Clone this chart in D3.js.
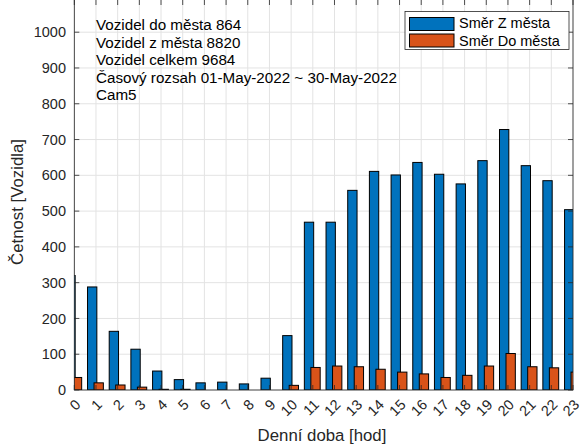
<!DOCTYPE html>
<html>
<head>
<meta charset="utf-8">
<script src="https://cdn.jsdelivr.net/npm/d3@7"></script>
<style>
  body { margin: 0; background: #fff; }
  svg { display: block; font-family: "Liberation Sans", Arial, Helvetica, sans-serif; }
</style>
</head>
<body>
<div id="chart"></div>
<script>
// hourly counts, Cam5, 01-May-2022 ~ 30-May-2022
const hours = ["0","1","2","3","4","5","6","7","8","9","10","11","12","13","14","15","16","17","18","19","20","21","22","23"];
const zMesta = [320, 288, 164, 114, 53, 29, 20, 22, 17, 33, 152, 469, 469, 558, 611, 601, 636, 603, 576, 641, 728, 627, 585, 504];
const doMesta = [35, 20, 14, 8, 2, 2, 0, 0, 0, 0, 13, 63, 67, 65, 58, 50, 45, 35, 41, 67, 102, 65, 62, 50];
const seriesNames = ["Směr Z města", "Směr Do města"];
const yTicks = [0, 100, 200, 300, 400, 500, 600, 700, 800, 900, 1000];
const infoLines = [
  "Vozidel do města 864",
  "Vozidel z města 8820",
  "Vozidel celkem 9684",
  "Časový rozsah 01-May-2022 ~ 30-May-2022",
  "Cam5"
];

const width = 582, height = 448;
const pLeft = 74.3, pRight = 573, pTop = 0, pBottom = 390;
const colors = ["#0072BD", "#D95319"];
const axisCol = "#262626";

const svg = d3.select("#chart").append("svg")
  .attr("width", width)
  .attr("height", height);

const x = d3.scaleLinear().domain([0, 23]).range([pLeft, pRight]);
const y = d3.scaleLinear().domain([0, 1090]).range([pBottom, pTop]);

svg.append("clipPath").attr("id", "plot")
  .append("rect")
  .attr("x", pLeft).attr("y", pTop)
  .attr("width", pRight - pLeft).attr("height", pBottom - pTop);

// grid
const grid = svg.append("g").attr("stroke", "#e3e3e3").attr("stroke-width", 1);
grid.selectAll(".gx").data(hours).enter().append("line")
  .attr("x1", (d, i) => x(i)).attr("x2", (d, i) => x(i))
  .attr("y1", pTop).attr("y2", pBottom);
grid.selectAll(".gy").data(yTicks).enter().append("line")
  .attr("x1", pLeft).attr("x2", pRight)
  .attr("y1", d => y(d)).attr("y2", d => y(d));

// bars
const barW = 0.43;
const offsets = [-0.175, 0.125];
const bars = svg.append("g").attr("clip-path", "url(#plot)");
[zMesta, doMesta].forEach((vals, s) => {
  bars.selectAll(".b" + s).data(vals).enter().append("rect")
    .attr("x", (d, i) => x(i + offsets[s] - barW / 2))
    .attr("width", x(barW) - x(0))
    .attr("y", d => y(d))
    .attr("height", d => y(0) - y(d))
    .attr("fill", colors[s])
    .attr("stroke", "#000")
    .attr("stroke-width", 1);
});

// box + ticks
const ax = svg.append("g").attr("stroke", axisCol).attr("stroke-width", 0.8).attr("fill", "none");
ax.append("rect").attr("x", pLeft).attr("y", pTop - 5)
  .attr("width", pRight - pLeft).attr("height", pBottom - pTop + 5);
const tl = 5;
hours.forEach((h, i) => {
  ax.append("line").attr("x1", x(i)).attr("x2", x(i)).attr("y1", pBottom).attr("y2", pBottom - tl);
  ax.append("line").attr("x1", x(i)).attr("x2", x(i)).attr("y1", pTop).attr("y2", pTop + tl);
});
yTicks.forEach(v => {
  ax.append("line").attr("x1", pLeft).attr("x2", pLeft + tl).attr("y1", y(v)).attr("y2", y(v));
  ax.append("line").attr("x1", pRight).attr("x2", pRight - tl).attr("y1", y(v)).attr("y2", y(v));
});

// y tick labels
svg.append("g").selectAll("text").data(yTicks).enter().append("text")
  .attr("x", 66).attr("y", d => y(d))
  .attr("dy", "0.35em")
  .attr("text-anchor", "end")
  .attr("font-size", 14.5)
  .attr("fill", axisCol)
  .text(d => d);

// x tick labels, rotated 45deg, right end near the tick
svg.append("g").selectAll("text").data(hours).enter().append("text")
  .attr("transform", (d, i) => `translate(${x(i) + 3.5},402) rotate(-45)`)
  .attr("text-anchor", "end")
  .attr("dy", "0.35em")
  .attr("font-size", 14.5)
  .attr("fill", axisCol)
  .text(d => d);

// axis labels
svg.append("text")
  .attr("x", 322).attr("y", 441)
  .attr("text-anchor", "middle")
  .attr("font-size", 16.8)
  .attr("fill", axisCol)
  .text("Denní doba [hod]");
svg.append("text")
  .attr("transform", "translate(23,202) rotate(-90)")
  .attr("text-anchor", "middle")
  .attr("font-size", 16.8)
  .attr("fill", axisCol)
  .text("Četnost [Vozidla]");

// info text
svg.append("g").selectAll("text").data(infoLines).enter().append("text")
  .attr("x", 96).attr("y", (d, i) => 30 + i * 17.5)
  .attr("font-size", 15.2)
  .attr("fill", "#000")
  .text(d => d);

// legend
const lg = svg.append("g");
lg.append("rect")
  .attr("x", 405).attr("y", 11.5).attr("width", 164).attr("height", 38)
  .attr("fill", "#fff").attr("stroke", axisCol).attr("stroke-width", 0.8);
seriesNames.forEach((n, i) => {
  lg.append("rect")
    .attr("x", 409.5).attr("y", 17.5 + i * 16.5)
    .attr("width", 44.5).attr("height", 13)
    .attr("fill", colors[i]).attr("stroke", "#000").attr("stroke-width", 1);
  lg.append("text")
    .attr("x", 459).attr("y", 28 + i * 17.5)
    .attr("font-size", 14.5)
    .attr("fill", "#000")
    .text(n);
});
</script>
</body>
</html>
